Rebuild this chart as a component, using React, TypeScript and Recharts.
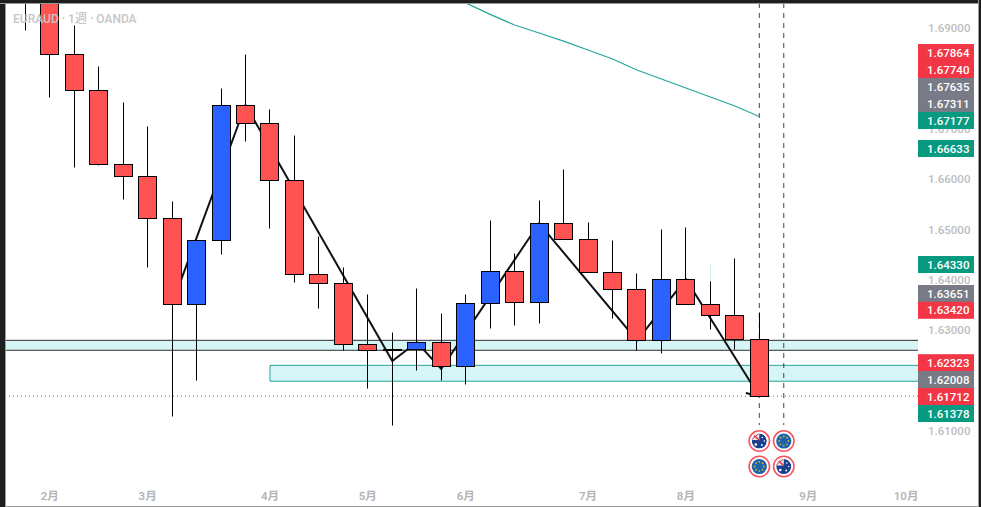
import React from "react";
import {
  ComposedChart, Bar, Line, XAxis, YAxis, ReferenceArea, ReferenceLine, ReferenceDot,
} from "recharts";

const opens = [1.7030,1.6965,1.68498,1.67783,1.66314,1.66076,1.65242,1.63535,1.64805,1.67485,1.67128,1.65997,1.64130,1.63952,1.62741,1.62642,1.62642,1.62781,1.62304,1.63555,1.64190,1.63575,1.65143,1.64825,1.64170,1.63833,1.62820,1.64031,1.63535,1.63317,1.62840];
const closes = [1.6965,1.68498,1.67783,1.66314,1.66076,1.65242,1.63535,1.64805,1.67485,1.67128,1.65997,1.64130,1.63952,1.62741,1.62622,1.62622,1.62781,1.62304,1.63555,1.64190,1.63575,1.65143,1.64825,1.64170,1.63833,1.62820,1.64031,1.63535,1.63317,1.62840,1.61709];
const highs = [1.7060,1.6990,1.69079,1.68246,1.67531,1.67074,1.65566,1.64805,1.67809,1.68484,1.67392,1.66876,1.64877,1.64275,1.63739,1.62985,1.63839,1.63343,1.63720,1.65189,1.64547,1.65586,1.66201,1.65149,1.64811,1.64137,1.65010,1.65050,1.63978,1.64454,1.63382];
const lows = [1.68966,1.67636,1.66247,1.66286,1.65625,1.64262,1.61304,1.62018,1.64520,1.66763,1.65036,1.63964,1.63448,1.62622,1.61860,1.61139,1.62217,1.62018,1.61939,1.63051,1.63110,1.63150,1.64825,1.64170,1.63249,1.62622,1.62554,1.63535,1.63025,1.62628,1.61709];
const zigzag = [null,null,null,null,null,null,1.63535,null,null,1.67491,null,null,null,null,null,1.62409,1.62781,1.62251,null,null,null,1.65143,null,null,null,1.62820,null,1.64031,null,null,1.61709];
const ema = [null,null,null,null,null,null,null,null,null,null,null,null,null,null,null,null,null,null,1.69518,1.69290,1.69079,1.68920,1.68760,1.68582,1.68404,1.68186,1.68007,1.67829,1.67650,1.67471,1.67263];

const monthTicks = [1, 5, 10, 14, 18, 23, 27, 32, 36];
const monthLabels = ["2月", "3月", "4月", "5月", "6月", "7月", "8月", "9月", "10月"];
const priceTicks = [1.61, 1.63, 1.64, 1.65, 1.66, 1.67, 1.69];

const tagTexts = ["1.67864","1.67740","1.67635","1.67311","1.67177","1.66633","1.64330","1.63651","1.63420","1.62323","1.62008","1.61712","1.61378"];
const tagSlots = [1.68533,1.68196,1.67859,1.67521,1.67184,1.66628,1.64325,1.63749,1.63416,1.62376,1.62042,1.61705,1.61367];
const tagKinds = ["sell","sell","mid","mid","buy","buy","buy","mid","sell","sell","mid","sell","buy"];

const bandA = [1.62820, 1.62622];
const bandB = [1.62323, 1.62008];
const bandBStart = 10;
const lastClose = 1.61712;
const eventBars = [30, 31];
const eventLineEnd = 1.61139;
const eventRows = [1.60821, 1.60315];
const eventFlags = [["AU", "EU"], ["EU", "AU"]];

const X_DOMAIN: [number, number] = [-0.8297, 36.486];
const Y_DOMAIN: [number, number] = [1.60087, 1.69516];

const RED = "#ff5252", BLUE = "#2962ff";
const TAG_COLORS: Record<string, string> = { sell: "#f23645", mid: "#787b86", buy: "#089981" };
const FONT = "Roboto, 'Noto Sans CJK JP', sans-serif";

const rows = opens.map((o, i) => ({
  i, open: o, close: closes[i], high: highs[i], low: lows[i],
  range: [lows[i], highs[i]], zz: zigzag[i], ema: ema[i],
}));

function Candle(props: any) {
  const { x, y, width, height, payload } = props;
  const { open, close, high, low } = payload;
  const toY = (p: number) => y + ((high - p) / (high - low)) * height;
  const snap = (v: number) => Math.floor(v) + 0.5;
  const cx = snap(x + width / 2 + 0.2);
  const top = snap(toY(Math.max(open, close)));
  const bottom = snap(toY(Math.min(open, close)));
  const fill = close >= open ? BLUE : RED;
  return (
    <g>
      <line x1={cx} x2={cx} y1={snap(toY(high))} y2={snap(toY(low))} stroke="#000" strokeWidth={1} />
      <rect x={cx - 9} y={top} width={18} height={Math.max(bottom - top, 1)} fill={fill} stroke="#000" strokeWidth={1} />
    </g>
  );
}

function PriceTag(props: any) {
  const { cx, cy, text, kind } = props;
  return (
    <g>
      <rect x={cx} y={cy - 8.5} width={56} height={17} fill={TAG_COLORS[kind]} />
      <text x={cx + 9} y={cy + 4.2} fill="#fff" fontSize={11.5} fontWeight={500} fontFamily={FONT}>{text}</text>
    </g>
  );
}

const EU_STARS = [0, 1, 2, 3, 4, 5, 6, 7];

function EventFlag(props: any) {
  const { cx, cy, flag } = props;
  const id = `flag-${Math.round(cx)}-${Math.round(cy)}`;
  return (
    <g>
      <circle cx={cx} cy={cy} r={10.2} fill="#fff" stroke="#f7525f" strokeWidth={1.6} />
      <clipPath id={id}><circle cx={cx} cy={cy} r={7.6} /></clipPath>
      {flag === "AU" ? (
        <g clipPath={`url(#${id})`}>
          <circle cx={cx} cy={cy} r={7.6} fill="#1a3f8f" />
          <rect x={cx - 8} y={cy - 8} width={8} height={7} fill="#e8e8f2" />
          <line x1={cx - 8} y1={cy - 8} x2={cx} y2={cy - 1} stroke="#d8404f" strokeWidth={1.6} />
          <line x1={cx - 8} y1={cy - 1} x2={cx} y2={cy - 8} stroke="#d8404f" strokeWidth={1} />
          <circle cx={cx - 3.5} cy={cy + 3.5} r={1.3} fill="#fff" />
          <circle cx={cx + 3} cy={cy - 3.5} r={0.8} fill="#fff" />
          <circle cx={cx + 5} cy={cy} r={0.8} fill="#fff" />
          <circle cx={cx + 2.5} cy={cy + 4} r={0.9} fill="#fff" />
        </g>
      ) : (
        <g>
          <circle cx={cx} cy={cy} r={7.6} fill="#1c62ad" />
          {EU_STARS.map((s) => (
            <circle key={s} cx={cx + 4.6 * Math.cos((s * Math.PI) / 4)} cy={cy + 4.6 * Math.sin((s * Math.PI) / 4)} r={0.9} fill="#c9b53a" />
          ))}
        </g>
      )}
    </g>
  );
}

const zi = (n: number) => ({ zIndex: n } as any);

export default function App() {
  return (
    <div style={{ position: "absolute", left: 0, top: 0, width: 981, height: 507, overflow: "hidden", background: "#fff" }}>
      <ComposedChart width={981} height={507} data={rows} margin={{ top: 3, right: 0, bottom: 3, left: 5 }}>
        <XAxis
          dataKey="i" type="number" domain={X_DOMAIN} allowDataOverflow ticks={monthTicks}
          tickFormatter={(v: number) => monthLabels[monthTicks.indexOf(v)]}
          axisLine={false} tickLine={false} height={26} tickMargin={8} interval={0}
          tick={{ fill: "#b4b4b4", fontSize: 11.5, fontWeight: 600, fontFamily: FONT }}
        />
        <YAxis
          orientation="right" type="number" domain={Y_DOMAIN} allowDataOverflow ticks={priceTicks}
          tickFormatter={(v: number) => v.toFixed(5)} axisLine={false} tickLine={false} width={63} tickMargin={4} interval={0}
          tick={{ fill: "#bdbdbd", fontSize: 11.5, fontWeight: 500, fontFamily: FONT, textAnchor: "start", dy: -1 }}
        />
        <ReferenceArea y1={bandA[0]} y2={bandA[1]} fill="#d6f5f7" fillOpacity={1} stroke="none" {...zi(50)} />
        <ReferenceLine y={bandA[0]} stroke="#2e2e2e" strokeWidth={1} {...zi(60)} />
        <ReferenceLine y={bandA[1]} stroke="#2e2e2e" strokeWidth={1} {...zi(60)} />
        <ReferenceArea x1={bandBStart} x2={X_DOMAIN[1]} y1={bandB[0]} y2={bandB[1]} fill="#d6f5f7" fillOpacity={1} stroke="none" {...zi(50)} />
        <ReferenceLine segment={[{ x: bandBStart, y: bandB[0] }, { x: X_DOMAIN[1], y: bandB[0] }]} stroke="#26a69a" strokeWidth={1} {...zi(60)} />
        <ReferenceLine segment={[{ x: bandBStart, y: bandB[1] }, { x: X_DOMAIN[1], y: bandB[1] }]} stroke="#26a69a" strokeWidth={1} {...zi(60)} />
        <ReferenceLine segment={[{ x: bandBStart, y: bandB[0] }, { x: bandBStart, y: bandB[1] }]} stroke="#26a69a" strokeWidth={1} {...zi(60)} />
        <ReferenceLine y={lastClose} stroke="#f23645" strokeWidth={1} strokeDasharray="1 3" {...zi(70)} />
        {eventBars.map((b) => (
          <ReferenceLine key={b} segment={[{ x: b, y: Y_DOMAIN[1] }, { x: b, y: eventLineEnd }]} stroke="#444" strokeWidth={1} strokeDasharray="5 5" {...zi(80)} />
        ))}
        <ReferenceLine segment={[{ x: 28, y: 1.64335 }, { x: 28, y: 1.63978 }]} stroke="#cfeeea" strokeWidth={1} {...zi(85)} />
        <Line dataKey="zz" connectNulls stroke="#111" strokeWidth={2} dot={false} isAnimationActive={false} {...zi(90)} />
        <ReferenceLine segment={[{ x: 29.45, y: 1.61774 }, { x: 30, y: 1.61709 }]} stroke="#111" strokeWidth={2} {...zi(90)} />
        <Line dataKey="ema" connectNulls stroke="#26a69a" strokeWidth={1.2} dot={false} isAnimationActive={false} {...zi(90)} />
        <Bar dataKey="range" barSize={18} shape={<Candle />} isAnimationActive={false} {...zi(300)} />
        {eventRows.map((p, r) =>
          eventBars.map((b, c) => (
            <ReferenceDot key={`${r}-${c}`} x={b} y={p} r={10} shape={(s: any) => <EventFlag {...s} flag={eventFlags[r][c]} />} {...zi(700)} />
          ))
        )}
        {tagSlots.map((p, k) => (
          <ReferenceDot key={tagTexts[k]} x={X_DOMAIN[1]} y={p} r={8} shape={(s: any) => <PriceTag {...s} text={tagTexts[k]} kind={tagKinds[k]} />} {...zi(2100)} />
        ))}
      </ComposedChart>
      <div style={{ position: "absolute", left: 13, top: 9, color: "#c6c6c6", fontSize: 12, fontFamily: FONT, fontWeight: 500, pointerEvents: "none" }}>EURAUD · 1週 · OANDA</div>
      <div style={{ position: "absolute", left: 0, top: 0, width: 5, height: 507, background: "#1e1e1e", borderRight: "1px solid #9a9a9a" }} />
      <div style={{ position: "absolute", left: 0, top: 0, width: 981, height: 3, background: "#1e1e1e", borderBottom: "1px solid #9a9a9a" }} />
      <div style={{ position: "absolute", left: 978, top: 0, width: 3, height: 507, background: "#1e1e1e", borderLeft: "1px solid #9a9a9a", boxSizing: "border-box" }} />
      <div style={{ position: "absolute", left: 5, top: 506, width: 973, height: 1, background: "#9a9a9a" }} />
    </div>
  );
}
